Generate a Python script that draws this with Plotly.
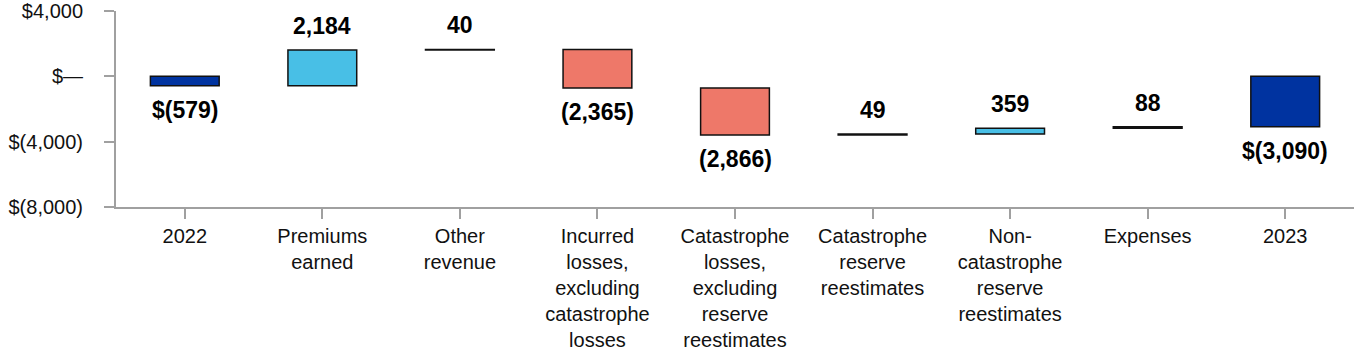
import plotly.graph_objects as go

categories = ["2022", "Premiums<br>earned", "Other<br>revenue",
              "Incurred<br>losses,<br>excluding<br>catastrophe<br>losses",
              "Catastrophe<br>losses,<br>excluding<br>reserve<br>reestimates",
              "Catastrophe<br>reserve<br>reestimates",
              "Non-<br>catastrophe<br>reserve<br>reestimates",
              "Expenses", "2023"]
values = [-579, 2184, 40, -2365, -2866, 49, 359, 88, -3090]
is_total = [True, False, False, False, False, False, False, False, True]
labels = ["$(579)", "2,184", "40", "(2,365)", "(2,866)", "49", "359", "88", "$(3,090)"]
colors = ["#0033A0", "#48BFE6", "#111111", "#EE7869", "#EE7869",
          "#111111", "#48BFE6", "#111111", "#0033A0"]
ytick_vals = [4000, 0, -4000, -8000]
ytick_text = ["$4,000", "$—", "$(4,000)", "$(8,000)"]

positions = list(range(len(categories)))
bases, heights = [], []
running = 0
for v, t in zip(values, is_total):
    if t:
        bases.append(0)
        heights.append(v)
        running = v
    else:
        bases.append(running)
        heights.append(v)
        running += v

FONT = "Liberation Sans, Arial, Helvetica, sans-serif"

fig = go.Figure(go.Bar(
    x=positions, y=heights, base=bases, width=0.5,
    marker=dict(color=colors, line=dict(color="#111111", width=1.5)),
    hoverinfo="skip",
))

for p, b, h, lab in zip(positions, bases, heights, labels):
    top = max(b, b + h)
    bot = min(b, b + h)
    if h >= 0:
        fig.add_annotation(x=p, y=top, text=f"<b>{lab}</b>", showarrow=False,
                           yanchor="middle", yshift=24,
                           font=dict(family=FONT, size=23, color="#000"))
    else:
        fig.add_annotation(x=p, y=bot, text=f"<b>{lab}</b>", showarrow=False,
                           yanchor="middle", yshift=-24,
                           font=dict(family=FONT, size=23, color="#000"))

fig.update_layout(
    width=1364, height=360,
    margin=dict(l=116, r=10, t=11, b=153),
    plot_bgcolor="white", paper_bgcolor="white",
    showlegend=False,
    font=dict(family=FONT, size=20, color="#111"),
    xaxis=dict(range=[-0.5, len(categories) - 0.5], tickvals=positions, ticktext=categories,
               showline=True, linecolor="#a0a0a0", linewidth=2, automargin=False,
               ticks="outside", ticklen=10, tickwidth=2, tickcolor="#a0a0a0",
               showgrid=False, zeroline=False, tickfont=dict(size=20, color="#111"), tickangle=0,
               ticklabeloverflow="allow"),
    yaxis=dict(range=[-8000, 4000], tickvals=ytick_vals, ticktext=ytick_text,
               showline=True, linecolor="#a0a0a0", linewidth=2, automargin=False,
               ticks="outside", ticklen=10, tickwidth=2, tickcolor="#a0a0a0",
               showgrid=False, zeroline=False, tickfont=dict(size=20, color="#111"),
               ticklabelstandoff=17, ticklabeloverflow="allow"),
)

fig.write_html("out.html", config={"displayModeBar": False},
               post_script="document.body.style.margin='0';document.body.style.overflow='hidden';")
